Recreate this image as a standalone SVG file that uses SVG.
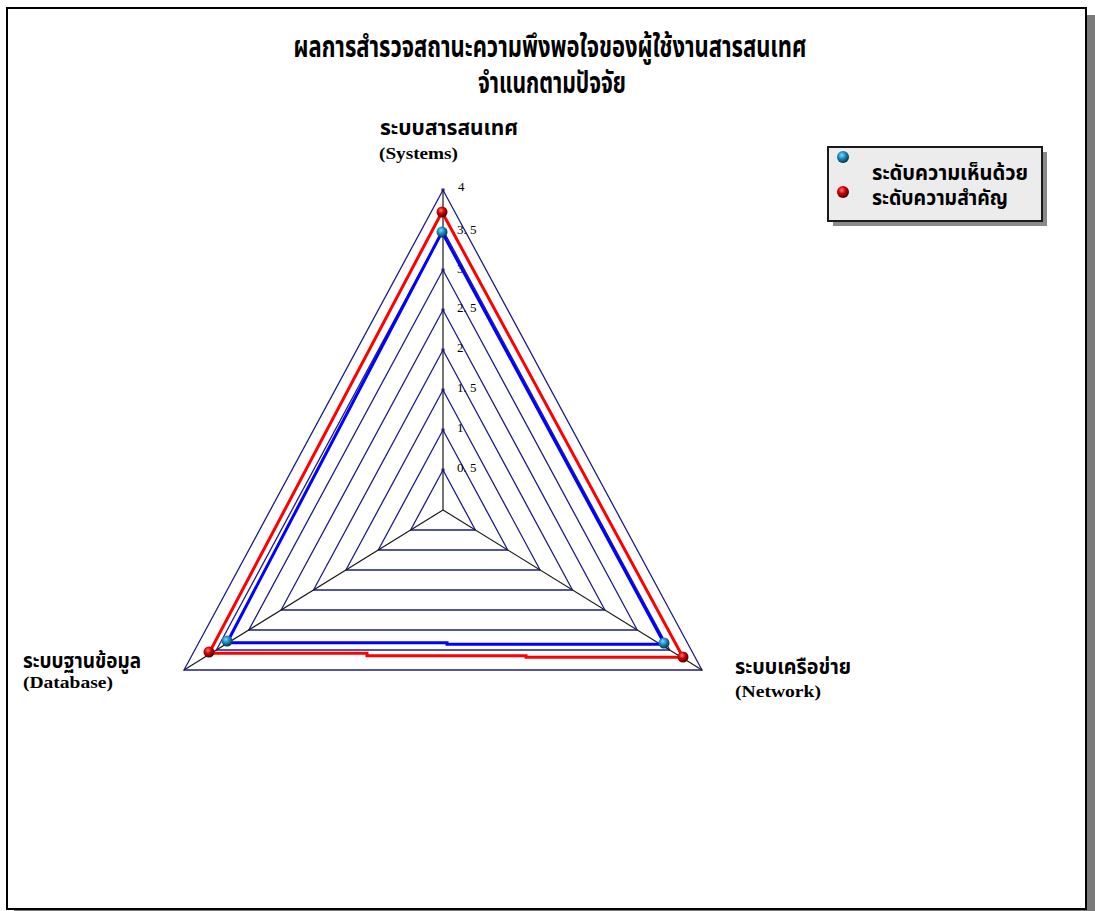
<svg xmlns="http://www.w3.org/2000/svg" width="1095" height="911" viewBox="0 0 1095 911">
<defs>
<radialGradient id="gBlue" cx="0.4" cy="0.35" r="0.65">
<stop offset="0" stop-color="#7fd8ff"/>
<stop offset="0.45" stop-color="#1b8fc4"/>
<stop offset="1" stop-color="#083048"/>
</radialGradient>
<radialGradient id="gRed" cx="0.4" cy="0.35" r="0.65">
<stop offset="0" stop-color="#ff7a7a"/>
<stop offset="0.45" stop-color="#d40000"/>
<stop offset="1" stop-color="#4a0000"/>
</radialGradient>
<style>
.ring{fill:none;stroke:#1c1c8a;stroke-width:1.3}
.axis{stroke:#1a1a1a;stroke-width:1.2}
.th{font-family:'Liberation Serif','Noto Sans Thai','Noto Serif Thai','Loma','Garuda','Norasi','DejaVu Sans',serif;font-weight:bold;fill:#000}
.en{font-family:'Liberation Serif',serif;font-weight:bold;fill:#000}
.tick{font-family:'Liberation Serif',serif;font-size:13px;fill:#000}
.blue{fill:none;stroke:#0000ff;stroke-width:3;stroke-linejoin:miter}
.red{fill:none;stroke:#ff0000;stroke-width:3;stroke-linejoin:miter}
</style>
</defs>
<rect x="0" y="0" width="1095" height="911" fill="#ffffff"/>
<rect x="14" y="15" width="1081" height="901" fill="#7a7a7a"/>
<rect x="7" y="8" width="1079" height="901" fill="#ffffff" stroke="#000" stroke-width="2"/>

<g id="title">
<text class="th" x="550" y="57" font-size="30" text-anchor="middle" textLength="513" lengthAdjust="spacingAndGlyphs">ผลการสำรวจสถานะความพึงพอใจของผู้ใช้งานสารสนเทศ</text>
<text class="th" x="552" y="93" font-size="30" text-anchor="middle" textLength="148" lengthAdjust="spacingAndGlyphs">จำแนกตามปัจจัย</text>
</g>

<g id="grid">
<polygon class="ring" points="443,470 410.6,530 475.4,530"/>
<polygon class="ring" points="443,430 378.25,550 507.75,550"/>
<polygon class="ring" points="443,390 345.9,570 540.1,570"/>
<polygon class="ring" points="443,350 313.5,590 572.5,590"/>
<polygon class="ring" points="443,310 281.1,610 604.9,610"/>
<polygon class="ring" points="443,270 248.75,630 637.25,630"/>
<polygon class="ring" points="443,230 216.4,650 669.6,650"/>
<polygon class="ring" points="443,190 184,670 702,670"/>
</g>

<g id="connectors">
<line class="axis" x1="443" y1="510" x2="443" y2="190" stroke-width="1.8"/>
<line class="axis" x1="443" y1="510" x2="184" y2="670"/>
<line class="axis" x1="443" y1="510" x2="702" y2="670"/>
<g fill="#1c1c8a">
<rect x="441.5" y="468.5" width="3" height="3"/>
<rect x="441.5" y="428.5" width="3" height="3"/>
<rect x="441.5" y="388.5" width="3" height="3"/>
<rect x="441.5" y="348.5" width="3" height="3"/>
<rect x="441.5" y="308.5" width="3" height="3"/>
<rect x="441.5" y="268.5" width="3" height="3"/>
<rect x="441.5" y="228.5" width="3" height="3"/>
<rect x="441.5" y="188.5" width="3" height="3"/>
</g>
</g>

<g id="ticks">
<text class="tick" x="458" y="191">4</text>
<text class="tick" x="457" y="234">3. 5</text>
<text class="tick" x="457" y="273">3</text>
<text class="tick" x="457" y="312">2. 5</text>
<text class="tick" x="457" y="352">2</text>
<text class="tick" x="457" y="392">1. 5</text>
<text class="tick" x="457" y="432">1</text>
<text class="tick" x="457" y="472">0. 5</text>
</g>

<g id="series-agree">
<path class="blue" d="M442,232 L664,643 L664,644.3 L447,644.3 L447,642.7 L227,642.7 Z"/>
</g>
<g id="series-importance">
<path class="red" d="M442,212 L683,657.3 L526,657.3 L526,655.7 L367,655.7 L367,653.3 L209,653.3 Z"/>
</g>

<g id="markers">
<circle cx="442" cy="232" r="5.5" fill="url(#gBlue)"/>
<circle cx="227" cy="641" r="5.5" fill="url(#gBlue)"/>
<circle cx="664" cy="643" r="5.5" fill="url(#gBlue)"/>
<circle cx="442" cy="212" r="5.5" fill="url(#gRed)"/>
<circle cx="209" cy="652" r="5.5" fill="url(#gRed)"/>
<circle cx="683" cy="657" r="5.5" fill="url(#gRed)"/>
</g>

<g id="label-systems">
<text class="th" x="380" y="135" font-size="21" textLength="138" lengthAdjust="spacingAndGlyphs">ระบบสารสนเทศ</text>
<text class="en" x="379" y="159" font-size="17" textLength="79" lengthAdjust="spacingAndGlyphs">(Systems)</text>
</g>
<g id="label-database">
<text class="th" x="23" y="668" font-size="21" textLength="118" lengthAdjust="spacingAndGlyphs">ระบบฐานข้อมูล</text>
<text class="en" x="23" y="688" font-size="17" textLength="90" lengthAdjust="spacingAndGlyphs">(Database)</text>
</g>
<g id="label-network">
<text class="th" x="735" y="674" font-size="21" textLength="116" lengthAdjust="spacingAndGlyphs">ระบบเครือข่าย</text>
<text class="en" x="735" y="697" font-size="17" textLength="86" lengthAdjust="spacingAndGlyphs">(Network)</text>
</g>

<g id="legend">
<rect x="833" y="152" width="214" height="74" fill="#8a8a8a"/>
<rect x="828" y="147" width="214" height="74" fill="#ececec" stroke="#1a1a1a" stroke-width="2"/>
<circle cx="843" cy="157" r="6" fill="url(#gBlue)"/>
<circle cx="843" cy="192" r="6" fill="url(#gRed)"/>
<text class="th" x="872" y="180" font-size="21" textLength="156" lengthAdjust="spacingAndGlyphs">ระดับความเห็นด้วย</text>
<text class="th" x="872" y="205" font-size="21" textLength="136" lengthAdjust="spacingAndGlyphs">ระดับความสำคัญ</text>
</g>
</svg>
